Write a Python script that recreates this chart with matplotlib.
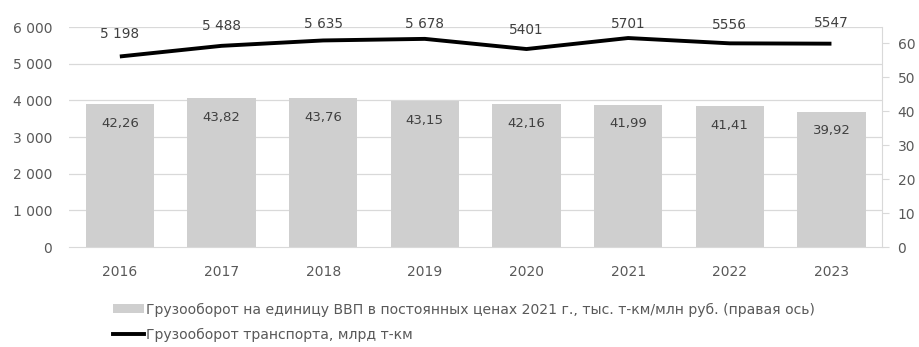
import matplotlib
matplotlib.use("Agg")
import matplotlib.pyplot as plt
from matplotlib.patches import Patch
from matplotlib.lines import Line2D

years = ["2016", "2017", "2018", "2019", "2020", "2021", "2022", "2023"]
# Freight turnover per unit of GDP (right axis)
intensity = [42.26, 43.82, 43.76, 43.15, 42.16, 41.99, 41.41, 39.92]
# Total freight turnover, bn t-km (left axis)
turnover = [5198, 5488, 5635, 5678, 5401, 5701, 5556, 5547]
turnover_labels = ["5 198", "5 488", "5 635", "5 678", "5401", "5701", "5556", "5547"]
left_ticks = [0, 1000, 2000, 3000, 4000, 5000, 6000]
left_tick_labels = ["0", "1 000", "2 000", "3 000", "4 000", "5 000", "6 000"]
right_ticks = [0, 10, 20, 30, 40, 50, 60]

bar_name = "Грузооборот на единицу ВВП в постоянных ценах 2021 г., тыс. т-км/млн руб. (правая ось)"
line_name = "Грузооборот транспорта, млрд т-км"

plt.rcParams["font.family"] = ["DejaVu Sans"]

TEXT = "#595959"
LABEL = "#404040"
GRID = "#d9d9d9"
BAR = "#cfcfcf"

fig = plt.figure(figsize=(9.2, 3.47), dpi=100)
ax = fig.add_axes([0.075, 0.288, 0.884, 0.634])
ax2 = ax.twinx()

x = list(range(len(years)))

# bars on the secondary axis, drawn beneath the line
ax2.bar(x, intensity, width=0.67, color=BAR, zorder=2)
for xi, v in zip(x, intensity):
    ax2.annotate(f"{v:.2f}".replace(".", ","), (xi, v), xytext=(0, -14),
                 textcoords="offset points", ha="center", va="center",
                 fontsize=9.5, color=LABEL)
ax2.set_ylim(0, 64.8)
ax2.set_yticks(right_ticks)
ax2.tick_params(axis="y", colors=GRID, labelcolor=TEXT, labelsize=10,
                length=5, width=0.8, pad=6, direction="out")

# line on the primary axis, brought to the front
ax.set_zorder(ax2.get_zorder() + 1)
ax.patch.set_visible(False)
ax.plot(x, turnover, color="#000000", lw=2.8, zorder=5, solid_capstyle="butt")
label_offsets = [16, 14, 12, 11, 14, 10, 13, 15]
for xi, v, s, dy in zip(x, turnover, turnover_labels, label_offsets):
    ax.annotate(s, (xi, v), xytext=(0, dy), textcoords="offset points",
                ha="center", va="center", fontsize=9.8, color=LABEL)
ax.set_ylim(0, 6000)
ax.set_yticks(left_ticks)
ax.set_yticklabels(left_tick_labels)
ax.tick_params(axis="y", colors=TEXT, labelsize=10, length=0, pad=12)
ax.set_xlim(-0.5, len(years) - 0.5)
ax.set_xticks(x)
ax.set_xticklabels(years)
ax.tick_params(axis="x", colors=TEXT, labelsize=10, length=0, pad=13)

# gridlines behind everything
ax2.set_axisbelow(True)
for t in left_ticks[1:]:
    ax2.axhline(t * 64.8 / 6000, color=GRID, lw=0.9, zorder=0)

for a in (ax, ax2):
    for side in ("top", "left"):
        a.spines[side].set_visible(False)
    a.spines["bottom"].set_color(GRID)
    a.spines["right"].set_color(GRID)
ax.spines["right"].set_visible(False)
ax2.spines["bottom"].set_visible(False)

handles = [Patch(facecolor=BAR, edgecolor="none"),
           Line2D([0], [0], color="#000000", lw=2.8)]
fig.legend(handles, [bar_name, line_name], loc="upper left",
           bbox_to_anchor=(0.123, 0.128), frameon=False, fontsize=10.1,
           labelcolor=TEXT, handlelength=2.2, handleheight=0.6,
           handletextpad=0.15, labelspacing=0.78, borderpad=0, borderaxespad=0)

fig.savefig("out.png", dpi=100, facecolor="white")
